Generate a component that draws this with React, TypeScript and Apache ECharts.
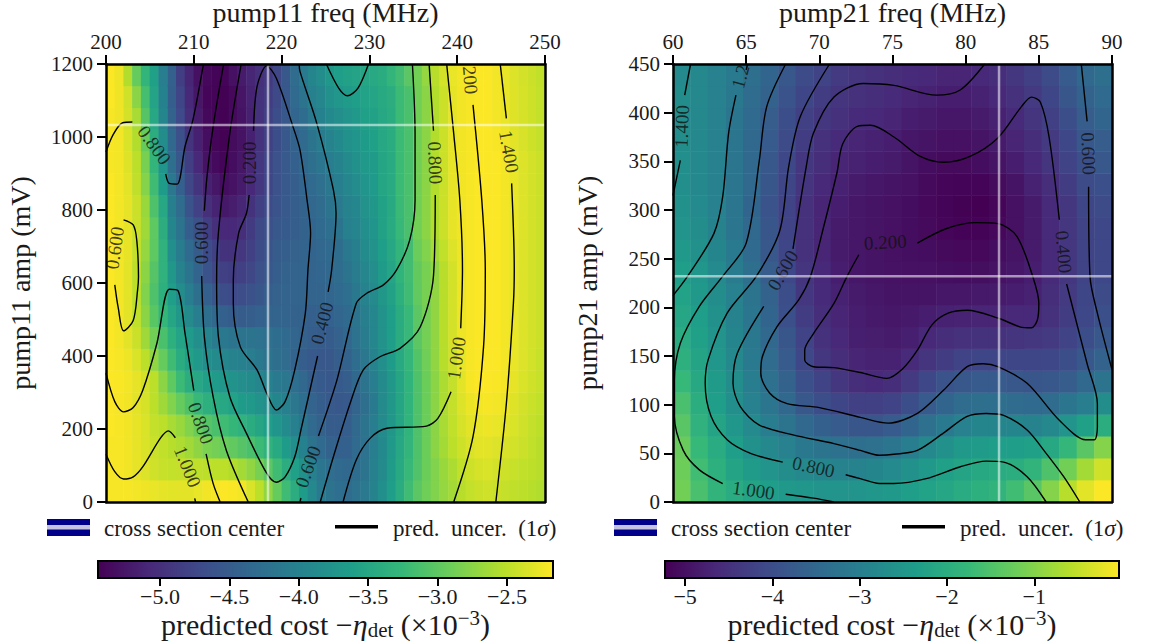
import React, { useEffect, useRef } from "react";
import * as echarts from "echarts";

type P = [number, number];

const FONT = "'Liberation Serif', serif";
const VIRIDIS = ["#440154", "#482878", "#3e4a89", "#31688e", "#26828e", "#1f9e89", "#35b779", "#6ece58", "#b5de2b", "#fde725"];

// ---------- left panel: predicted cost, rows from bottom to top
const leftFreqCats = [200.5,201.5,202.5,203.5,204.5,205.5,206.5,207.5,208.5,209.5,210.5,211.5,212.5,213.5,214.5,215.5,216.5,217.5,218.5,219.5,220.5,221.5,222.5,223.5,224.5,225.5,226.5,227.5,228.5,229.5,230.5,231.5,232.5,233.5,234.5,235.5,236.5,237.5,238.5,239.5,240.5,241.5,242.5,243.5,244.5,245.5,246.5,247.5,248.5,249.5];
const leftAmpCats = [30,90,150,210,270,330,390,450,510,570,630,690,750,810,870,930,990,1050,1110,1170];
const leftCost = [
[-2.2,-2.2,-2.2,-2.22,-2.24,-2.27,-2.29,-2.31,-2.3,-2.3,-2.27,-2.23,-2.2,-2.18,-2.19,-2.22,-2.35,-2.5,-2.72,-2.95,-3.2,-3.4,-3.65,-3.9,-4.1,-4.2,-4.27,-4.3,-4.22,-4.12,-3.98,-3.82,-3.62,-3.42,-3.2,-3.02,-2.9,-2.8,-2.7,-2.62,-2.52,-2.46,-2.42,-2.4,-2.42,-2.45,-2.48,-2.5,-2.53,-2.56],
[-2.2,-2.2,-2.23,-2.28,-2.33,-2.4,-2.44,-2.46,-2.45,-2.46,-2.48,-2.5,-2.5,-2.5,-2.55,-2.62,-2.72,-2.85,-3.02,-3.2,-3.4,-3.6,-3.8,-4.0,-4.17,-4.27,-4.33,-4.35,-4.28,-4.18,-4.02,-3.88,-3.66,-3.46,-3.25,-3.08,-2.92,-2.8,-2.68,-2.58,-2.47,-2.41,-2.37,-2.35,-2.38,-2.41,-2.44,-2.47,-2.49,-2.52],
[-2.2,-2.2,-2.23,-2.28,-2.34,-2.42,-2.47,-2.53,-2.57,-2.64,-2.73,-2.83,-2.87,-2.93,-2.98,-3.05,-3.12,-3.22,-3.33,-3.47,-3.65,-3.82,-4.0,-4.2,-4.33,-4.42,-4.45,-4.45,-4.32,-4.22,-4.05,-3.9,-3.7,-3.5,-3.3,-3.1,-2.92,-2.75,-2.62,-2.5,-2.41,-2.34,-2.3,-2.3,-2.33,-2.36,-2.39,-2.42,-2.47,-2.52],
[-2.18,-2.2,-2.23,-2.28,-2.35,-2.45,-2.5,-2.6,-2.68,-2.8,-2.93,-3.05,-3.12,-3.2,-3.27,-3.35,-3.42,-3.52,-3.62,-3.75,-3.87,-4.02,-4.17,-4.32,-4.42,-4.5,-4.5,-4.48,-4.35,-4.2,-4.05,-3.88,-3.72,-3.52,-3.32,-3.1,-2.92,-2.75,-2.6,-2.47,-2.37,-2.3,-2.27,-2.25,-2.27,-2.31,-2.35,-2.4,-2.45,-2.5],
[-2.18,-2.2,-2.23,-2.3,-2.37,-2.5,-2.65,-2.8,-2.95,-3.1,-3.25,-3.37,-3.43,-3.5,-3.57,-3.65,-3.7,-3.77,-3.83,-3.95,-4.02,-4.15,-4.27,-4.4,-4.47,-4.53,-4.55,-4.53,-4.4,-4.25,-4.1,-3.88,-3.72,-3.52,-3.32,-3.1,-2.92,-2.75,-2.58,-2.45,-2.33,-2.26,-2.22,-2.2,-2.22,-2.26,-2.32,-2.38,-2.43,-2.47],
[-2.18,-2.19,-2.22,-2.28,-2.38,-2.5,-2.75,-3.0,-3.22,-3.4,-3.5,-3.6,-3.67,-3.73,-3.77,-3.83,-3.87,-3.93,-4.0,-4.1,-4.15,-4.27,-4.35,-4.47,-4.52,-4.56,-4.52,-4.48,-4.35,-4.2,-4.05,-3.88,-3.72,-3.52,-3.32,-3.1,-2.92,-2.75,-2.58,-2.45,-2.3,-2.2,-2.18,-2.18,-2.19,-2.22,-2.28,-2.35,-2.4,-2.44],
[-2.18,-2.2,-2.25,-2.35,-2.5,-2.72,-2.95,-3.2,-3.42,-3.58,-3.7,-3.82,-3.87,-3.93,-3.98,-4.02,-4.06,-4.13,-4.18,-4.25,-4.3,-4.4,-4.47,-4.53,-4.55,-4.55,-4.48,-4.42,-4.28,-4.14,-3.98,-3.82,-3.65,-3.46,-3.28,-3.07,-2.9,-2.72,-2.53,-2.4,-2.27,-2.2,-2.18,-2.18,-2.18,-2.22,-2.27,-2.33,-2.39,-2.44],
[-2.18,-2.22,-2.3,-2.42,-2.65,-2.88,-3.12,-3.37,-3.55,-3.68,-3.82,-3.97,-4.07,-4.13,-4.18,-4.2,-4.2,-4.22,-4.24,-4.28,-4.33,-4.38,-4.43,-4.48,-4.5,-4.5,-4.43,-4.37,-4.22,-4.08,-3.93,-3.78,-3.63,-3.42,-3.25,-3.02,-2.87,-2.72,-2.52,-2.38,-2.25,-2.2,-2.18,-2.18,-2.18,-2.22,-2.27,-2.33,-2.38,-2.42],
[-2.18,-2.22,-2.3,-2.47,-2.75,-3.03,-3.27,-3.52,-3.72,-3.88,-4.05,-4.25,-4.35,-4.45,-4.5,-4.5,-4.47,-4.44,-4.4,-4.4,-4.4,-4.42,-4.43,-4.46,-4.45,-4.44,-4.38,-4.32,-4.18,-4.03,-3.93,-3.78,-3.63,-3.42,-3.25,-3.02,-2.87,-2.72,-2.52,-2.38,-2.25,-2.2,-2.18,-2.18,-2.18,-2.22,-2.27,-2.33,-2.38,-2.42],
[-2.18,-2.22,-2.3,-2.5,-2.8,-3.1,-3.38,-3.62,-3.85,-4.05,-4.25,-4.45,-4.57,-4.68,-4.72,-4.68,-4.63,-4.57,-4.48,-4.43,-4.4,-4.4,-4.4,-4.4,-4.4,-4.38,-4.33,-4.27,-4.13,-3.98,-3.88,-3.72,-3.58,-3.37,-3.2,-2.98,-2.85,-2.72,-2.52,-2.38,-2.25,-2.2,-2.18,-2.18,-2.18,-2.22,-2.27,-2.33,-2.38,-2.42],
[-2.18,-2.22,-2.3,-2.5,-2.75,-3.05,-3.35,-3.72,-3.98,-4.2,-4.4,-4.6,-4.75,-4.83,-4.87,-4.83,-4.75,-4.65,-4.55,-4.47,-4.42,-4.4,-4.4,-4.4,-4.38,-4.34,-4.3,-4.2,-4.08,-3.92,-3.83,-3.67,-3.53,-3.32,-3.18,-2.97,-2.85,-2.72,-2.52,-2.38,-2.25,-2.2,-2.18,-2.18,-2.18,-2.22,-2.27,-2.33,-2.38,-2.42],
[-2.18,-2.22,-2.28,-2.45,-2.7,-3.0,-3.35,-3.82,-4.08,-4.33,-4.5,-4.7,-4.83,-4.97,-4.98,-4.92,-4.82,-4.7,-4.6,-4.5,-4.47,-4.43,-4.4,-4.4,-4.37,-4.33,-4.28,-4.13,-4.03,-3.87,-3.78,-3.62,-3.5,-3.3,-3.18,-2.93,-2.8,-2.62,-2.47,-2.33,-2.25,-2.2,-2.18,-2.18,-2.18,-2.22,-2.27,-2.33,-2.38,-2.42],
[-2.18,-2.22,-2.28,-2.42,-2.65,-3.0,-3.4,-3.95,-4.2,-4.48,-4.65,-4.85,-5.0,-5.08,-5.08,-5.02,-4.88,-4.73,-4.65,-4.55,-4.52,-4.47,-4.42,-4.38,-4.33,-4.27,-4.2,-4.02,-3.97,-3.82,-3.75,-3.58,-3.45,-3.25,-3.12,-2.88,-2.75,-2.55,-2.42,-2.28,-2.23,-2.2,-2.18,-2.18,-2.18,-2.22,-2.27,-2.33,-2.38,-2.42],
[-2.18,-2.22,-2.28,-2.42,-2.68,-3.1,-3.5,-4.03,-4.3,-4.6,-4.8,-5.0,-5.13,-5.23,-5.18,-5.1,-4.98,-4.82,-4.7,-4.6,-4.53,-4.47,-4.42,-4.37,-4.3,-4.2,-4.12,-3.98,-3.92,-3.78,-3.72,-3.58,-3.47,-3.23,-3.12,-2.88,-2.75,-2.55,-2.42,-2.28,-2.23,-2.2,-2.18,-2.18,-2.18,-2.22,-2.27,-2.33,-2.38,-2.42],
[-2.18,-2.22,-2.3,-2.48,-2.78,-3.2,-3.65,-4.15,-4.45,-4.75,-4.95,-5.15,-5.25,-5.33,-5.28,-5.2,-5.08,-4.92,-4.77,-4.62,-4.53,-4.47,-4.38,-4.32,-4.24,-4.14,-4.06,-3.94,-3.86,-3.74,-3.68,-3.52,-3.45,-3.22,-3.12,-2.88,-2.75,-2.55,-2.42,-2.28,-2.23,-2.2,-2.18,-2.18,-2.18,-2.22,-2.27,-2.33,-2.38,-2.42],
[-2.2,-2.22,-2.32,-2.5,-2.85,-3.3,-3.75,-4.25,-4.55,-4.85,-5.08,-5.28,-5.36,-5.42,-5.33,-5.25,-5.1,-4.92,-4.77,-4.62,-4.53,-4.45,-4.35,-4.25,-4.16,-4.04,-3.98,-3.88,-3.8,-3.7,-3.66,-3.52,-3.45,-3.22,-3.12,-2.88,-2.75,-2.55,-2.42,-2.28,-2.23,-2.2,-2.18,-2.18,-2.18,-2.22,-2.27,-2.33,-2.38,-2.42],
[-2.2,-2.22,-2.35,-2.55,-2.95,-3.4,-3.85,-4.35,-4.65,-4.95,-5.15,-5.32,-5.4,-5.44,-5.35,-5.28,-5.15,-4.97,-4.82,-4.67,-4.55,-4.42,-4.32,-4.18,-4.08,-3.98,-3.9,-3.8,-3.75,-3.65,-3.6,-3.5,-3.42,-3.22,-3.12,-2.88,-2.75,-2.55,-2.42,-2.28,-2.23,-2.2,-2.18,-2.18,-2.2,-2.24,-2.3,-2.36,-2.41,-2.45],
[-2.2,-2.24,-2.38,-2.6,-3.05,-3.5,-3.95,-4.42,-4.72,-5.02,-5.2,-5.37,-5.42,-5.44,-5.36,-5.28,-5.15,-4.97,-4.82,-4.67,-4.55,-4.38,-4.28,-4.12,-4.0,-3.9,-3.84,-3.76,-3.7,-3.6,-3.58,-3.5,-3.42,-3.22,-3.12,-2.88,-2.75,-2.55,-2.42,-2.28,-2.23,-2.2,-2.18,-2.18,-2.22,-2.27,-2.32,-2.37,-2.41,-2.46],
[-2.18,-2.24,-2.4,-2.75,-3.15,-3.55,-4.0,-4.48,-4.77,-5.07,-5.25,-5.4,-5.42,-5.44,-5.38,-5.26,-5.13,-4.97,-4.87,-4.73,-4.55,-4.33,-4.18,-4.02,-3.92,-3.8,-3.73,-3.67,-3.62,-3.57,-3.53,-3.47,-3.4,-3.22,-3.12,-2.88,-2.75,-2.55,-2.42,-2.28,-2.23,-2.2,-2.18,-2.18,-2.22,-2.27,-2.32,-2.37,-2.41,-2.46],
[-2.18,-2.25,-2.55,-2.95,-3.3,-3.6,-4.05,-4.45,-4.85,-5.1,-5.3,-5.38,-5.42,-5.42,-5.3,-5.2,-5.1,-5.0,-4.9,-4.75,-4.55,-4.3,-4.1,-3.95,-3.85,-3.72,-3.62,-3.58,-3.55,-3.52,-3.48,-3.42,-3.3,-3.18,-3.02,-2.88,-2.7,-2.52,-2.38,-2.27,-2.22,-2.2,-2.18,-2.18,-2.22,-2.27,-2.33,-2.38,-2.42,-2.47],
];

// ---------- right panel: predicted cost, rows from bottom to top
const rightFreqCats = [60.6,61.8,63,64.2,65.4,66.6,67.8,69,70.2,71.4,72.6,73.8,75,76.2,77.4,78.6,79.8,81,82.2,83.4,84.6,85.8,87,88.2,89.4];
const rightAmpCats = [11,34,56,79,101,124,146,169,191,214,236,259,281,304,326,349,371,394,416,439];
const rightCost = [
[-1.15,-1.55,-1.85,-2.05,-2.2,-2.35,-2.45,-2.5,-2.55,-2.55,-2.55,-2.5,-2.45,-2.35,-2.25,-2.15,-2.05,-1.95,-1.85,-1.65,-1.4,-1.0,-0.6,-0.25,-0.05],
[-1.2,-1.65,-1.95,-2.2,-2.4,-2.55,-2.7,-2.8,-2.85,-2.9,-2.9,-2.85,-2.75,-2.6,-2.45,-2.3,-2.2,-2.1,-2.05,-2.0,-1.85,-1.5,-1.15,-0.75,-0.4],
[-1.25,-1.75,-2.05,-2.35,-2.6,-2.8,-2.95,-3.15,-3.25,-3.3,-3.35,-3.3,-3.2,-3.0,-2.8,-2.6,-2.45,-2.4,-2.35,-2.35,-2.3,-2.1,-1.8,-1.4,-1.0],
[-1.4,-1.9,-2.2,-2.5,-2.75,-3.0,-3.25,-3.5,-3.65,-3.75,-3.85,-3.85,-3.75,-3.55,-3.3,-3.1,-2.95,-2.85,-2.85,-2.85,-2.9,-2.8,-2.55,-2.3,-2.0],
[-1.55,-2.0,-2.35,-2.65,-2.95,-3.2,-3.5,-3.8,-4.0,-4.15,-4.25,-4.25,-4.2,-4.0,-3.75,-3.55,-3.4,-3.35,-3.35,-3.4,-3.45,-3.4,-3.2,-3.0,-2.7],
[-1.75,-2.1,-2.4,-2.7,-3.0,-3.3,-3.6,-3.95,-4.2,-4.4,-4.55,-4.6,-4.55,-4.35,-4.1,-3.9,-3.8,-3.75,-3.75,-3.8,-3.85,-3.8,-3.7,-3.5,-3.25],
[-1.95,-2.2,-2.5,-2.8,-3.1,-3.4,-3.75,-4.1,-4.4,-4.55,-4.7,-4.75,-4.75,-4.62,-4.45,-4.3,-4.2,-4.15,-4.15,-4.15,-4.15,-4.1,-4.0,-3.8,-3.6],
[-2.05,-2.3,-2.55,-2.85,-3.15,-3.5,-3.85,-4.2,-4.5,-4.65,-4.78,-4.82,-4.85,-4.78,-4.65,-4.55,-4.5,-4.48,-4.48,-4.45,-4.4,-4.35,-4.2,-4.0,-3.8],
[-2.15,-2.35,-2.6,-2.9,-3.2,-3.55,-3.95,-4.3,-4.55,-4.7,-4.8,-4.88,-4.9,-4.88,-4.8,-4.75,-4.72,-4.7,-4.7,-4.65,-4.65,-4.5,-4.3,-4.1,-3.95],
[-2.25,-2.45,-2.7,-2.95,-3.25,-3.6,-4.0,-4.4,-4.6,-4.75,-4.85,-4.9,-4.95,-4.95,-4.95,-4.9,-4.9,-4.88,-4.85,-4.8,-4.75,-4.55,-4.35,-4.15,-4.05],
[-2.35,-2.5,-2.75,-3.05,-3.35,-3.7,-4.1,-4.45,-4.65,-4.8,-4.9,-4.95,-4.98,-5.0,-5.0,-5.02,-5.05,-5.03,-4.98,-4.9,-4.8,-4.6,-4.4,-4.2,-4.1],
[-2.45,-2.6,-2.85,-3.1,-3.45,-3.8,-4.15,-4.5,-4.7,-4.85,-4.9,-4.95,-5.0,-5.02,-5.05,-5.1,-5.12,-5.12,-5.05,-4.95,-4.85,-4.6,-4.4,-4.2,-4.1],
[-2.55,-2.7,-2.9,-3.2,-3.5,-3.85,-4.2,-4.5,-4.7,-4.85,-4.9,-4.95,-5.0,-5.05,-5.1,-5.15,-5.2,-5.2,-5.12,-5.0,-4.85,-4.6,-4.4,-4.2,-4.1],
[-2.6,-2.75,-2.95,-3.2,-3.55,-3.9,-4.2,-4.5,-4.7,-4.8,-4.9,-4.95,-5.0,-5.05,-5.12,-5.18,-5.22,-5.23,-5.15,-5.0,-4.85,-4.6,-4.4,-4.15,-4.05],
[-2.65,-2.8,-2.95,-3.2,-3.5,-3.85,-4.15,-4.45,-4.65,-4.75,-4.85,-4.9,-4.95,-5.0,-5.1,-5.15,-5.18,-5.18,-5.08,-4.95,-4.75,-4.55,-4.3,-4.05,-3.95],
[-2.65,-2.8,-2.95,-3.2,-3.5,-3.8,-4.1,-4.4,-4.55,-4.7,-4.75,-4.8,-4.85,-4.95,-5.05,-5.1,-5.1,-5.05,-4.95,-4.8,-4.65,-4.45,-4.2,-3.95,-3.8],
[-2.7,-2.8,-2.95,-3.2,-3.5,-3.75,-4.05,-4.3,-4.5,-4.6,-4.7,-4.75,-4.8,-4.9,-4.95,-5.0,-5.0,-4.95,-4.85,-4.7,-4.55,-4.35,-4.1,-3.8,-3.7],
[-2.7,-2.8,-2.95,-3.2,-3.45,-3.7,-4.0,-4.25,-4.4,-4.5,-4.6,-4.65,-4.7,-4.8,-4.85,-4.9,-4.9,-4.85,-4.75,-4.6,-4.45,-4.25,-4.0,-3.7,-3.55],
[-2.7,-2.8,-2.95,-3.15,-3.4,-3.6,-3.9,-4.15,-4.3,-4.45,-4.5,-4.55,-4.6,-4.7,-4.75,-4.8,-4.8,-4.75,-4.65,-4.5,-4.35,-4.15,-3.85,-3.6,-3.45],
[-2.75,-2.8,-2.95,-3.1,-3.35,-3.55,-3.8,-4.05,-4.2,-4.35,-4.45,-4.5,-4.55,-4.6,-4.65,-4.7,-4.7,-4.65,-4.55,-4.4,-4.25,-4.05,-3.75,-3.5,-3.35],
];

// ---------- left panel: uncertainty contours (freq MHz, amp mV)
const leftContours: P[][] = [
[[200,959],[200.8,1006],[201.9,1039],[203,1041]],
[[206.8,899],[207.2,873],[208.1,871],[209,974],[209.9,1047],[211.1,1200]],
[[213.4,1200],[212.2,1028],[211.5,891],[211.2,798]],
[[210.9,619],[211.2,453],[212.2,288.5],[213.7,142],[216.2,0]],
[[215.4,1200],[214.1,1010],[212.8,737],[212.6,608],[212.8,453],[214.1,288.5],[216,188],[218.3,79],[219.4,54],[220.4,69],[221.5,124],[222.2,197],[224.1,400]],
[[225.3,576],[225.7,636],[226.2,792],[225.9,855],[224,1038],[222.1,1179],[222,1200]],
[[216.8,1017],[217.2,1138],[218.3,1195],[219.4,1161],[221.3,1028],[222.1,964],[222.9,827],[223.3,737],[223,636],[222.7,517],[221.5,362],[220.4,275],[219.4,252],[218.3,298],[217.2,362],[215.3,425],[214.5,544],[214.5,608],[215.1,736],[216,791],[216.3,841]],
[[222.1,0],[222.2,11]],
[[224.2,181],[226.3,334],[228.5,544],[229.7,572],[231.6,595],[233.1,636],[234.6,718],[235.2,827],[235.2,1010],[234.9,1200]],
[[224.4,0],[225.9,124],[227.8,270],[229.3,362],[231.2,398],[233.5,421],[235.8,480],[237.3,620],[237.5,841]],
[[237.3,1017],[236.8,1200]],
[[227,0],[228.5,115],[230.1,175],[232,202],[236.5,208],[237.8,229],[239.3,302]],
[[240.4,476],[240.6,636],[240.3,827],[239.6,1010],[238.8,1200]],
[[239.6,0],[241.8,179],[243,425],[243.2,636],[242.8,827],[241.8,1088]],
[[244.4,0],[245.6,270],[246.4,544],[246.5,636],[246.2,873]],
[[245.6,1051],[244.9,1200]],
[[225.1,1200],[226.5,1134],[227.5,1113],[228.7,1134],[229.9,1200]],
[[201,595],[201.4,531],[202,469],[203.1,497],[203.6,581],[203.7,617],[203.5,718],[203.1,759],[202,773]],
[[200,353],[201,275],[202,247],[203.1,259],[204.2,307],[205.8,435],[207.2,583],[208.2,579],[209,462],[210,305]],
[[211.4,132],[212.2,51],[213,0]],
[[200,131],[201,83],[202,63],[203.1,69],[204.2,97],[206.2,175],[207.1,195],[207.9,176]],
[[210.1,10],[210.2,0]],
];
// [freq, amp, text, rotation]
const leftLabels: [number, number, string, number][] = [
[205.5,978,"0.800",-54],[201,696,"0.600",82],[210.9,710,"0.600",90],[216.4,929,"0.200",90],
[241.5,1156,"200",-85],[237.5,929,"0.800",-88],[245.9,960,"1.400",-80],[224.6,490,"0.400",75],
[239.9,394,"1.000",82],[210.8,216,"0.800",-70],[209.3,97,"1.000",-68],[223,97,"0.600",70],
];

// ---------- right panel: uncertainty contours
const rightContours: P[][] = [
[[61.2,450],[60.8,418]],
[[60.5,351],[60,315]],
[[60,212],[61,232],[62.8,276],[63.4,314],[63.8,379],[64.3,418]],
[[65,444],[65.1,450]],
[[67.7,450],[66.4,406],[65.9,351],[65,266],[63.4,232],[61.8,201],[60.5,163],[60.1,125],[60.1,88],[60.7,53],[61.8,33],[63.4,19]],
[[67.7,8],[69.6,4],[71,0]],
[[70.7,450],[68.7,396],[67.9,344],[67.3,279],[65.7,232],[63.7,194],[62.4,146],[62.2,122],[62.6,88],[63.7,64],[65.3,50],[67.5,41]],
[[71.8,28],[72.8,24],[74.1,19],[75.1,19],[77.3,24],[79.6,36],[81.4,42],[82.6,41],[84.2,26],[85.5,0]],
[[81.3,450],[79.6,423],[78,418],[75.1,428],[73,430],[71,416],[69.6,379],[69.1,344],[68.2,260]],
[[66.2,201],[64.4,153],[64.1,122],[64.6,98],[65.9,79],[68.2,69],[71,60],[72.8,53],[74.1,48],[75.1,49],[76.7,53],[78.5,71],[80.1,88],[81.4,91],[82.6,89],[84.2,74],[85.5,50],[86.7,26],[87.8,0]],
[[87.9,450],[88.3,391]],
[[88.4,324],[88.5,231],[89,194],[90,136]],
[[86.9,224],[88.3,142],[89,101],[89,77],[88.8,64],[88.2,64],[86.4,84],[84.2,122],[82.2,139],[81.2,142],[80.1,139],[78.5,115],[76.7,91],[74.7,81],[72.8,87],[70,97],[67.8,101],[66.6,112],[66,132],[66.1,149],[67.1,180],[68.6,208],[69.4,232],[70.3,283],[71.2,338],[71.6,368],[72.6,386],[73.5,387],[75.1,375],[76.9,355],[78.5,349],[80.3,355],[82.2,374],[83.8,406],[84.5,416],[85.1,411],[85.7,375],[86.4,290]],
[[76.7,266],[78.7,281],[80.7,287],[82.2,286],[83.5,273],[84.6,231],[85,204],[84.9,187],[84.5,179],[83.7,180],[82.2,189],[80.1,197],[78.8,194],[77.7,182],[76.7,156],[75.7,137],[74.6,127],[72.8,133],[71,138],[69.6,139],[69,146],[69,156],[69.6,173],[71,204],[71.9,232],[72.7,254]],
];
const rightLabels: [number, number, string, number][] = [
[60.6,386,"1.400",88],[64.6,437,"1.2",75],[67.5,238,"0.600",60],[74.5,267,"0.200",3],
[88.4,358,"0.600",-88],[86.7,257,"0.400",-85],[69.6,36,"0.800",-12],[65.5,12,"1.000",-8],
];

// ---------- cross section centres and scales
const leftCross: P = [218.45, 1033];
const rightCross: P = [82.28, 232];
const leftRange: P = [-5.446, -2.169];
const rightRange: P = [-5.23, -0.03];
const leftBarTicks = [-5, -4.5, -4, -3.5, -3, -2.5];
const rightBarTicks = [-5, -4, -3, -2, -1];
const leftXTicks = { min: 200, max: 250, interval: 10 };
const rightXTicks = { min: 60, max: 90, interval: 5 };
const leftYTicks = { min: 0, max: 1200, interval: 200 };
const rightYTicks = { min: 0, max: 450, interval: 50 };

const BLACK = "#000";
const TEXT = "#1a1a1a";
const TICK_SIZE = 21;
const TITLE_SIZE = 28;

function heatData(rows: number[][]) {
  const out: number[][] = [];
  rows.forEach((r, j) => r.forEach((v, i) => out.push([i, j, v])));
  return out;
}

function panel(idx: number, xAxes: any[], yAxes: any[], series: any[], visualMaps: any[], cfg: any) {
  const xc = xAxes.length, xv = xc + 1;
  const yc = yAxes.length, yv = yc + 1;
  const frame = { show: true, onZero: false, lineStyle: { color: BLACK, width: 2.5 } };
  xAxes.push(
    {
      type: "category", gridIndex: idx, position: "bottom", data: cfg.freqCats, z: 10,
      axisLine: frame, axisTick: { show: false }, axisLabel: { show: false }, splitLine: { show: false },
    },
    {
      type: "value", gridIndex: idx, position: "top", ...cfg.xTicks, z: 10,
      name: cfg.xName, nameLocation: "middle", nameGap: 33,
      nameTextStyle: { fontFamily: FONT, fontSize: TITLE_SIZE, color: TEXT },
      axisLine: frame,
      axisTick: { show: true, length: 9, lineStyle: { color: BLACK, width: 2 } },
      axisLabel: { fontFamily: FONT, fontSize: TICK_SIZE, color: TEXT, margin: 12, showMinLabel: true, showMaxLabel: true, formatter: (v: number) => String(v) },
      splitLine: { show: false },
    }
  );
  yAxes.push(
    {
      type: "category", gridIndex: idx, position: "right", data: cfg.ampCats, z: 10,
      axisLine: frame, axisTick: { show: false }, axisLabel: { show: false }, splitLine: { show: false },
    },
    {
      type: "value", gridIndex: idx, position: "left", ...cfg.yTicks, z: 10,
      name: cfg.yName, nameLocation: "middle", nameGap: 72,
      nameTextStyle: { fontFamily: FONT, fontSize: TITLE_SIZE, color: TEXT },
      axisLine: frame,
      axisTick: { show: true, length: 9, lineStyle: { color: BLACK, width: 2 } },
      axisLabel: { fontFamily: FONT, fontSize: TICK_SIZE, color: TEXT, margin: 13, showMinLabel: true, showMaxLabel: true, formatter: (v: number) => String(v) },
      splitLine: { show: false },
    }
  );
  visualMaps.push({
    show: false, type: "continuous", seriesIndex: series.length, dimension: 2,
    min: cfg.range[0], max: cfg.range[1], inRange: { color: VIRIDIS },
  });
  series.push({
    type: "heatmap", xAxisIndex: xc, yAxisIndex: yc, data: heatData(cfg.cost), silent: true,
    itemStyle: { borderWidth: 0 }, emphasis: { disabled: true }, progressive: 0,
  });
  cfg.contours.forEach((c: P[]) =>
    series.push({
      type: "line", xAxisIndex: xv, yAxisIndex: yv, data: c, showSymbol: false, symbol: "none",
      smooth: 0.3, silent: true, z: 4, lineStyle: { color: BLACK, width: 1.4 },
    })
  );
  series.push({
    type: "scatter", xAxisIndex: xv, yAxisIndex: yv, symbolSize: 1, silent: true, z: 5,
    itemStyle: { color: "transparent" },
    data: cfg.labels.map((l: any) => ({
      value: [l[0], l[1]],
      label: {
        show: true, position: "inside", formatter: l[2], rotate: l[3],
        fontFamily: FONT, fontSize: 19, color: "#111",
      },
    })),
  });
  const crossStyle = { color: "rgba(255,255,255,0.55)", width: 2.5 };
  series.push(
    {
      type: "line", xAxisIndex: xv, yAxisIndex: yv, showSymbol: false, symbol: "none", silent: true, z: 6,
      data: [[cfg.cross[0], cfg.yTicks.min], [cfg.cross[0], cfg.yTicks.max]], lineStyle: crossStyle,
    },
    {
      type: "line", xAxisIndex: xv, yAxisIndex: yv, showSymbol: false, symbol: "none", silent: true, z: 6,
      data: [[cfg.xTicks.min, cfg.cross[1]], [cfg.xTicks.max, cfg.cross[1]]], lineStyle: crossStyle,
    }
  );
}

function colorbar(idx: number, xAxes: any[], yAxes: any[], series: any[], cfg: any) {
  const xi = xAxes.length, yi = yAxes.length;
  xAxes.push({
    type: "value", gridIndex: idx, position: "bottom", min: cfg.range[0], max: cfg.range[1], z: 10,
    name: "predicted cost −{i|η}{sub|det} (×10{sup|−3})",
    nameLocation: "middle", nameGap: 27,
    nameTextStyle: {
      fontFamily: FONT, fontSize: 30, color: TEXT,
      rich: {
        i: { fontFamily: FONT, fontStyle: "italic", fontSize: 30, color: TEXT },
        sub: { fontFamily: FONT, fontSize: 21, color: TEXT, padding: [10, 0, 0, 0] },
        sup: { fontFamily: FONT, fontSize: 21, color: TEXT, padding: [0, 0, 13, 0] },
      },
    },
    axisLine: { show: false, onZero: false },
    axisTick: { show: true, length: 8, customValues: cfg.ticks, lineStyle: { color: BLACK, width: 2 } },
    axisLabel: {
      fontFamily: FONT, fontSize: 22, color: TEXT, margin: 7, customValues: cfg.ticks,
      formatter: (v: number) => "−" + Math.abs(v).toFixed(cfg.digits),
    },
    splitLine: { show: false },
  });
  yAxes.push({ type: "value", gridIndex: idx, min: 0, max: 1, show: false });
  series.push({
    type: "custom", xAxisIndex: xi, yAxisIndex: yi, silent: true, clip: false,
    data: [[cfg.range[0], cfg.range[1]]],
    renderItem: (_: any, api: any) => {
      const a = api.coord([api.value(0), 1]);
      const b = api.coord([api.value(1), 0]);
      return {
        type: "rect",
        shape: { x: a[0], y: a[1], width: b[0] - a[0], height: b[1] - a[1] },
        style: {
          fill: new echarts.graphic.LinearGradient(0, 0, 1, 0,
            VIRIDIS.map((c, i) => ({ offset: i / (VIRIDIS.length - 1), color: c }))),
          stroke: BLACK, lineWidth: 2,
        },
      };
    },
  });
}

function legendGraphics(keyX: number, lineX: number) {
  const lab = { fontFamily: FONT, fontSize: 23, fill: TEXT };
  return [
    { type: "rect", silent: true, x: keyX, y: 519, shape: { width: 43, height: 17 }, style: { fill: "#00008b" } },
    { type: "rect", silent: true, x: keyX, y: 525, shape: { width: 43, height: 4.5 }, style: { fill: "#c4c4e2" } },
    { type: "text", silent: true, x: keyX + 57, y: 528, style: { ...lab, text: "cross section center", verticalAlign: "middle" } },
    { type: "rect", silent: true, x: lineX, y: 525, shape: { width: 43, height: 3.5 }, style: { fill: BLACK } },
    {
      type: "text", silent: true, x: lineX + 58, y: 528,
      style: {
        ...lab, text: "pred.  uncer.  (1{i|σ})", verticalAlign: "middle",
        rich: { i: { fontFamily: FONT, fontStyle: "italic", fontSize: 23, fill: TEXT } },
      },
    },
  ];
}

export default function App() {
  const ref = useRef<HTMLDivElement>(null);
  useEffect(() => {
    document.body.style.margin = "0";
    const chart = echarts.init(ref.current!, undefined, { renderer: "svg" });
    const xAxis: any[] = [], yAxis: any[] = [], series: any[] = [], visualMap: any[] = [];
    panel(0, xAxis, yAxis, series, visualMap, {
      freqCats: leftFreqCats, ampCats: leftAmpCats, cost: leftCost, contours: leftContours, labels: leftLabels,
      cross: leftCross, range: leftRange, xTicks: leftXTicks, yTicks: leftYTicks,
      xName: "pump11 freq (MHz)", yName: "pump11 amp (mV)",
    });
    panel(1, xAxis, yAxis, series, visualMap, {
      freqCats: rightFreqCats, ampCats: rightAmpCats, cost: rightCost, contours: rightContours, labels: rightLabels,
      cross: rightCross, range: rightRange, xTicks: rightXTicks, yTicks: rightYTicks,
      xName: "pump21 freq (MHz)", yName: "pump21 amp (mV)",
    });
    colorbar(2, xAxis, yAxis, series, { range: leftRange, ticks: leftBarTicks, digits: 1 });
    colorbar(3, xAxis, yAxis, series, { range: rightRange, ticks: rightBarTicks, digits: 0 });
    const bounds = { outerBoundsMode: "none" };
    chart.setOption({
      animation: false,
      backgroundColor: "#fff",
      grid: [
        { left: 106, top: 64, width: 439, height: 438, ...bounds },
        { left: 673, top: 64, width: 439, height: 438, ...bounds },
        { left: 98, top: 561, width: 455, height: 17, ...bounds },
        { left: 665, top: 561, width: 454, height: 17, ...bounds },
      ],
      xAxis, yAxis, visualMap, series,
      graphic: [...legendGraphics(47, 335), ...legendGraphics(614, 902)],
    });
    return () => chart.dispose();
  }, []);
  return <div ref={ref} style={{ width: 1149, height: 642 }} />;
}
